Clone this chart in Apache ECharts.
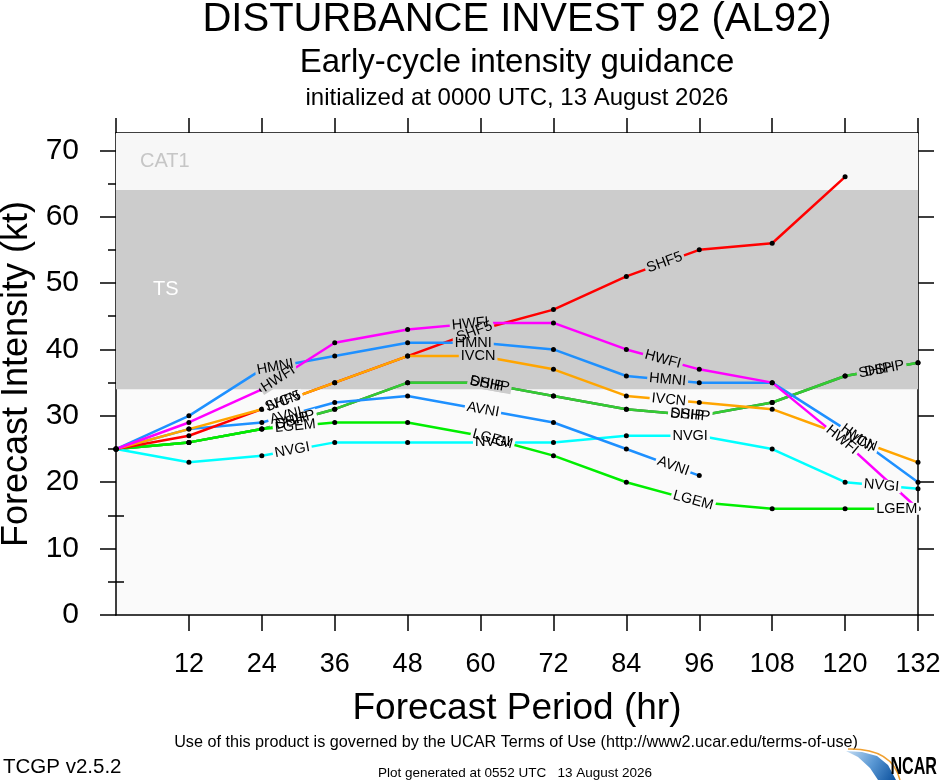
<!DOCTYPE html>
<html><head><meta charset="utf-8">
<script src="https://cdn.jsdelivr.net/npm/echarts@6/dist/echarts.min.js"></script>
<style>html,body{margin:0;padding:0;background:#fff}#c{width:940px;height:780px}</style>
</head><body><div id="c"></div>
<script>
// ---- data ----
const hours = [0, 12, 24, 36, 48, 60, 72, 84, 96, 108, 120, 132];
const SHIP = [25, 26, 28, 31, 35, 35, 33, 31, 30, 32, 36, 38];
const DSHP = [25, 26, 28, 31, 35, 35, 33, 31, 30, 32, 36, 38];
const LGEM = [25, 26, 28, 29, 29, 27, 24, 20, 17, 16, 16, 16];
const NVGI = [25, 23, 24, 26, 26, 26, 26, 27, 27, 25, 20, 19];
const AVNI = [25, 28, 29, 32, 33, 31, 29, 25, 21, null, null, null];
const SHF5 = [25, 27, 31, 35, 39, 43, 46, 51, 55, 56, 66, null];
const IVCN = [25, 28, 31, 35, 39, 39, 37, 33, 32, 31, 27, 23];
const HMNI = [25, 30, 37, 39, 41, 41, 40, 36, 35, 35, 28, 20];
const HWFI = [25, 29, 34, 41, 43, 44, 44, 40, 37, 35, 26, 16];
const yTicks = [0, 10, 20, 30, 40, 50, 60, 70];
const yMinorTicks = [5, 15, 25, 35, 45, 55, 65];
const bandTS = [34, 64];
const bandCAT1 = [64, 72.6];

// ---- styling / placement config ----
const FONT = '"Liberation Sans", Arial, Helvetica, sans-serif';
const models = [
  {name: 'SHIP', data: SHIP, color: '#505050'},
  {name: 'DSHP', data: DSHP, color: '#33cc33'},
  {name: 'LGEM', data: LGEM, color: '#00ee00'},
  {name: 'NVGI', data: NVGI, color: '#00ffff'},
  {name: 'AVNI', data: AVNI, color: '#1e90ff'},
  {name: 'SHF5', data: SHF5, color: '#ff0000'},
  {name: 'IVCN', data: IVCN, color: '#ffa500'},
  {name: 'HMNI', data: HMNI, color: '#1e90ff'},
  {name: 'HWFI', data: HWFI, color: '#ff00ff'}
];
const labelHours = {
  SHIP: [29, 61, 94, 125],
  DSHP: [29.5, 61.5, 94.5, 126.5],
  LGEM: [29.5, 62, 95, 128.5],
  NVGI: [29, 62, 94.5, 126],
  AVNI: [28, 60.4, 91.7],
  SHF5: [27.5, 59, 90.3],
  IVCN: [27.5, 59.6, 91, 122.5],
  HMNI: [26.2, 58.8, 90.8, 122],
  HWFI: [26.7, 58.3, 90, 119.5]
};

const chart = echarts.init(document.getElementById('c'), null, {renderer: 'canvas'});

const series = models.map((m, idx) => {
  const s = {
    name: m.name,
    type: 'line',
    data: hours.map((h, i) => [h, m.data[i]]),
    connectNulls: false,
    color: m.color,
    lineStyle: {color: m.color, width: 2.5},
    symbol: 'circle',
    symbolSize: 5,
    showSymbol: true,
    itemStyle: {color: '#000'},
    emphasis: {disabled: true},
    silent: true,
    animation: false,
    z: 3
  };
  if (idx === 0) {
    s.markArea = {
      silent: true,
      z: 1,
      data: [
        [{yAxis: bandTS[0], name: 'TS', itemStyle: {color: '#cccccc'},
          label: {show: true, position: 'insideLeft', distance: 37, color: '#ffffff', fontSize: 20, fontFamily: FONT}},
         {yAxis: bandTS[1]}],
        [{yAxis: bandCAT1[0], name: 'CAT1', itemStyle: {color: '#f7f7f7'},
          label: {show: true, position: 'insideLeft', distance: 24, color: '#c6c6c6', fontSize: 20, fontFamily: FONT}},
         {yAxis: bandCAT1[1]}]
      ]
    };
  }
  return s;
});

const lineBlack = {show: true, lineStyle: {color: '#000', width: 1.5}};

function txt(x, y, text, font, align) {
  return {type: 'text', x: x, y: y, silent: true,
    style: {text: text, font: font, fill: '#000', align: align, verticalAlign: 'middle',
      textAlign: align, textVerticalAlign: 'middle'}};
}

const ncarText = txt(937, 768, 'NCAR', 'bold 23px ' + FONT, 'right');
ncarText.scaleX = 0.7;

const staticGraphics = [
  txt(517, 20, 'DISTURBANCE INVEST 92 (AL92)', '40px ' + FONT, 'center'),
  txt(517, 63, 'Early-cycle intensity guidance', '33px ' + FONT, 'center'),
  txt(517, 98, 'initialized at 0000 UTC, 13 August 2026', '24px ' + FONT, 'center'),
  txt(516, 743, 'Use of this product is governed by the UCAR Terms of Use (http://www2.ucar.edu/terms-of-use)', '16.2px ' + FONT, 'center'),
  txt(3, 767, 'TCGP v2.5.2', '20.5px ' + FONT, 'left'),
  txt(515, 773, 'Plot generated at 0552 UTC   13 August 2026', '13.5px ' + FONT, 'center'),
  {type: 'polygon', silent: true,
   shape: {points: [[846, 751], [862, 752], [877, 756], [888, 765], [896, 780], [878, 780], [870, 768], [858, 757]]},
   style: {fill: {type: 'linear', x: 0, y: 0, x2: 1, y2: 1, colorStops: [{offset: 0, color: '#c4dcf2'}, {offset: 0.5, color: '#5a98d4'}, {offset: 1, color: '#0a4f9c'}]}}},
  {type: 'bezierCurve', silent: true,
   shape: {x1: 848, y1: 749, cpx1: 892, cpy1: 748, x2: 900, y2: 780},
   style: {fill: null, stroke: '#f0a030', lineWidth: 1.5}},
  ncarText
];

chart.setOption({
  animation: false,
  backgroundColor: '#ffffff',
  grid: {left: 116, right: 22, top: 133, bottom: 165, show: true, backgroundColor: '#fafafa', borderWidth: 0,
    containLabel: false, outerBoundsMode: 'none'},
  xAxis: [
    {type: 'value', position: 'bottom', min: 0, max: 132, interval: 12,
     axisLine: Object.assign({onZero: false}, lineBlack),
     axisTick: {show: true, inside: false, length: 16, lineStyle: {color: '#000', width: 1.5}},
     axisLabel: {show: true, showMinLabel: false, fontSize: 27, fontFamily: FONT, color: '#000', margin: 36},
     splitLine: {show: false},
     name: 'Forecast Period (hr)', nameLocation: 'middle', nameGap: 75,
     nameTextStyle: {fontSize: 37, fontFamily: FONT, color: '#000'}},
    {type: 'value', position: 'top', min: 0, max: 132, interval: 12,
     axisLine: Object.assign({onZero: false}, lineBlack),
     axisTick: {show: true, inside: false, length: 15, lineStyle: {color: '#000', width: 1.5}},
     axisLabel: {show: false}, splitLine: {show: false}}
  ],
  yAxis: [
    {type: 'value', position: 'left', min: 0, max: bandCAT1[1],
     axisLine: Object.assign({onZero: false}, lineBlack),
     axisTick: {show: true, inside: false, length: 16, customValues: yTicks, lineStyle: {color: '#000', width: 1.5}},
     axisLabel: {show: true, customValues: yTicks, fontSize: 30, fontFamily: FONT, color: '#000', margin: 37},
     splitLine: {show: false},
     name: 'Forecast Intensity (kt)', nameLocation: 'middle', nameGap: 74, nameRotate: 90,
     nameTextStyle: {fontSize: 36, fontFamily: FONT, color: '#000'}},
    {type: 'value', position: 'left', min: 0, max: bandCAT1[1],
     axisLine: {show: false},
     axisTick: {show: true, inside: false, length: 8, customValues: yMinorTicks, lineStyle: {color: '#000', width: 1.5}},
     axisLabel: {show: false}, splitLine: {show: false}},
    {type: 'value', position: 'right', min: 0, max: bandCAT1[1],
     axisLine: Object.assign({onZero: false}, lineBlack),
     axisTick: {show: true, inside: false, length: 16, customValues: yTicks, lineStyle: {color: '#000', width: 1.5}},
     axisLabel: {show: false}, splitLine: {show: false}},
    {type: 'value', position: 'right', min: 0, max: bandCAT1[1],
     axisLine: {show: false},
     axisTick: {show: true, inside: false, length: 8, customValues: yMinorTicks, lineStyle: {color: '#000', width: 1.5}},
     axisLabel: {show: false}, splitLine: {show: false}}
  ],
  series: series,
  graphic: staticGraphics
});

// ---- inline line labels (placed along each line's own segment) ----
function drawLabels() {
  const ctx = document.createElement('canvas').getContext('2d');
  const labelFont = '14.5px ' + FONT;
  ctx.font = labelFont;
  const bg = [], fg = [];
  const finder = {xAxisIndex: 0, yAxisIndex: 0};
  models.forEach(m => {
    (labelHours[m.name] || []).forEach(h => {
      let i = -1;
      for (let k = 0; k < hours.length - 1; k++) {
        if (h >= hours[k] && h <= hours[k + 1]) { i = k; break; }
      }
      if (i < 0) return;
      const v0 = m.data[i], v1 = m.data[i + 1];
      if (v0 == null || v1 == null) return;
      const t = (h - hours[i]) / (hours[i + 1] - hours[i]);
      const v = v0 + (v1 - v0) * t;
      const p = chart.convertToPixel(finder, [h, v]);
      const a = chart.convertToPixel(finder, [hours[i], v0]);
      const b = chart.convertToPixel(finder, [hours[i + 1], v1]);
      const rot = Math.atan2(-(b[1] - a[1]), b[0] - a[0]);
      const w = ctx.measureText(m.name).width + 4;
      const fill = (v >= bandTS[0] && v < bandTS[1]) ? '#cccccc' : '#fafafa';
      bg.push({type: 'rect', x: p[0], y: p[1], rotation: rot, z: 100, silent: true,
        shape: {x: -w / 2, y: -6, width: w, height: 12}, style: {fill: fill}});
      fg.push({type: 'text', x: p[0], y: p[1], rotation: rot, z: 101, silent: true,
        style: {text: m.name, x: 0, y: 0, font: labelFont, fill: '#000',
          align: 'center', verticalAlign: 'middle', textAlign: 'center', textVerticalAlign: 'middle'}});
    });
  });
  chart.setOption({graphic: staticGraphics.concat(bg, fg)});
}
drawLabels();
</script>
</body></html>
